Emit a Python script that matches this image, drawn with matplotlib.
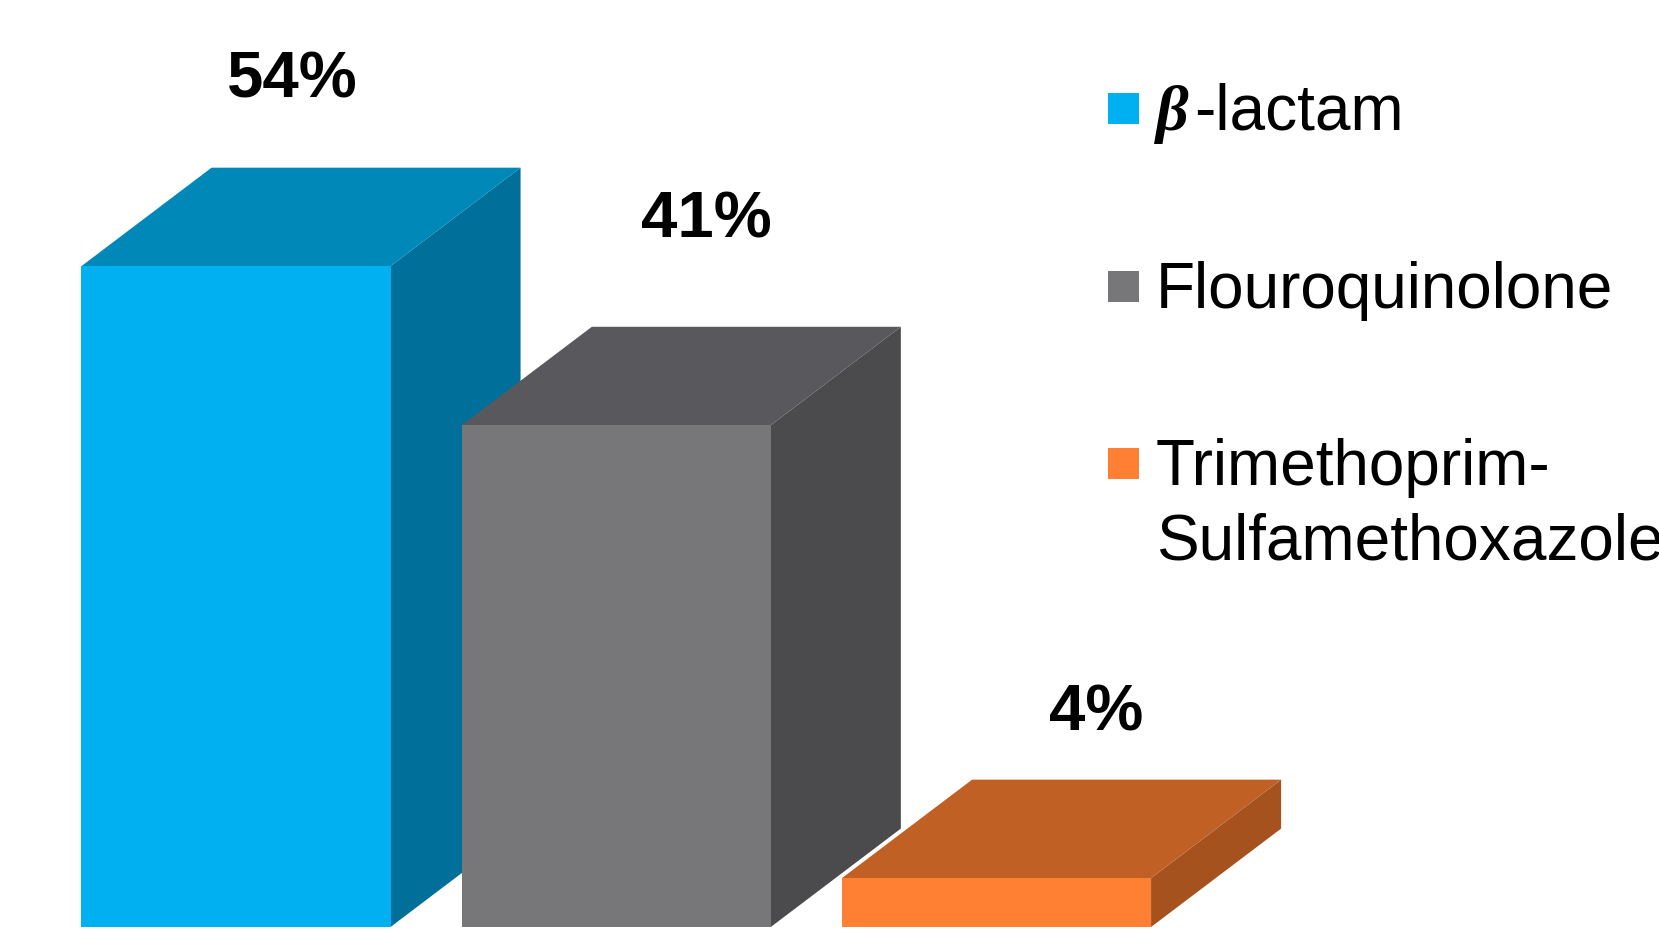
import matplotlib
matplotlib.use("Agg")
import matplotlib.pyplot as plt
from matplotlib.patches import Polygon, Rectangle
import matplotlib.transforms as mtransforms

# ---- data ----
categories = ["β-lactam", "Flouroquinolone", "Trimethoprim-\nSulfamethoxazole"]
values = [54, 41, 4]

# ---- style ----
front_colors = ["#00B0F0", "#77777A", "#FF8033"]
top_colors = ["#0088B8", "#59585C", "#C06025"]
side_colors = ["#006F99", "#4B4B4D", "#A5521F"]
label_nudge_px = [(56, 186), (90, 205), (100, 165)]  # (right, up) from bar front-top centre

W, H = 1659, 943
DPI = 100
fig = plt.figure(figsize=(W / DPI, H / DPI), dpi=DPI)
ax = fig.add_axes([0, 0, 1, 1])
ax.set_xlim(-0.6206, 3.742)
ax.set_ylim(-1.307, 75.74)
ax.axis("off")

bar_w = 0.8126
depth_x = 0.342
depth_y = 8.04

for i, v in enumerate(values):
    x0 = i - bar_w / 2
    x1 = i + bar_w / 2
    front = Polygon([(x0, 0), (x1, 0), (x1, v), (x0, v)], closed=True,
                    facecolor=front_colors[i], edgecolor="none")
    top = Polygon([(x0, v), (x1, v), (x1 + depth_x, v + depth_y), (x0 + depth_x, v + depth_y)],
                  closed=True, facecolor=top_colors[i], edgecolor="none")
    side = Polygon([(x1, 0), (x1 + depth_x, depth_y), (x1 + depth_x, v + depth_y), (x1, v)],
                   closed=True, facecolor=side_colors[i], edgecolor="none")
    for p in (side, top, front):
        ax.add_patch(p)
    dx, dy = label_nudge_px[i]
    ax.annotate(f"{v}%", xy=(i, v), xytext=(dx * 72 / DPI, dy * 72 / DPI),
                textcoords="offset points", ha="center", va="center",
                fontsize=47, fontweight="bold", family="Liberation Sans", color="black")

# ---- legend (pixel coords from top-left) ----
pix = mtransforms.Affine2D().scale(1 / W, -1 / H).translate(0, 1) + fig.transFigure
leg_centers = [108, 286, 463]
sq = 31
sq_x = 1108
txt_x = 1156
line_gap = 74
fs_leg = 46

fig.canvas.draw()
renderer = fig.canvas.get_renderer()

for i, lab in enumerate(categories):
    cy = leg_centers[i]
    fig.patches.append(Rectangle((sq_x, cy + sq / 2), sq, -sq, transform=pix,
                                 facecolor=front_colors[i], edgecolor="none"))
    lines = lab.split("\n")
    for j, line in enumerate(lines):
        base = cy + 22 + j * line_gap
        if line.startswith("β"):
            t = fig.text(txt_x, base, "β", transform=pix, ha="left", va="baseline",
                         fontsize=fs_leg, family="Liberation Serif", fontweight="bold",
                         style="italic", color="black")
            bb = t.get_window_extent(renderer=renderer)
            fig.text(txt_x + bb.width + 5, base, line[1:], transform=pix, ha="left",
                     va="baseline", fontsize=fs_leg, family="Liberation Sans", color="black")
        else:
            fig.text(txt_x, base, line, transform=pix, ha="left", va="baseline",
                     fontsize=fs_leg, family="Liberation Sans", color="black")

fig.savefig("out.png", dpi=DPI, facecolor="white")
